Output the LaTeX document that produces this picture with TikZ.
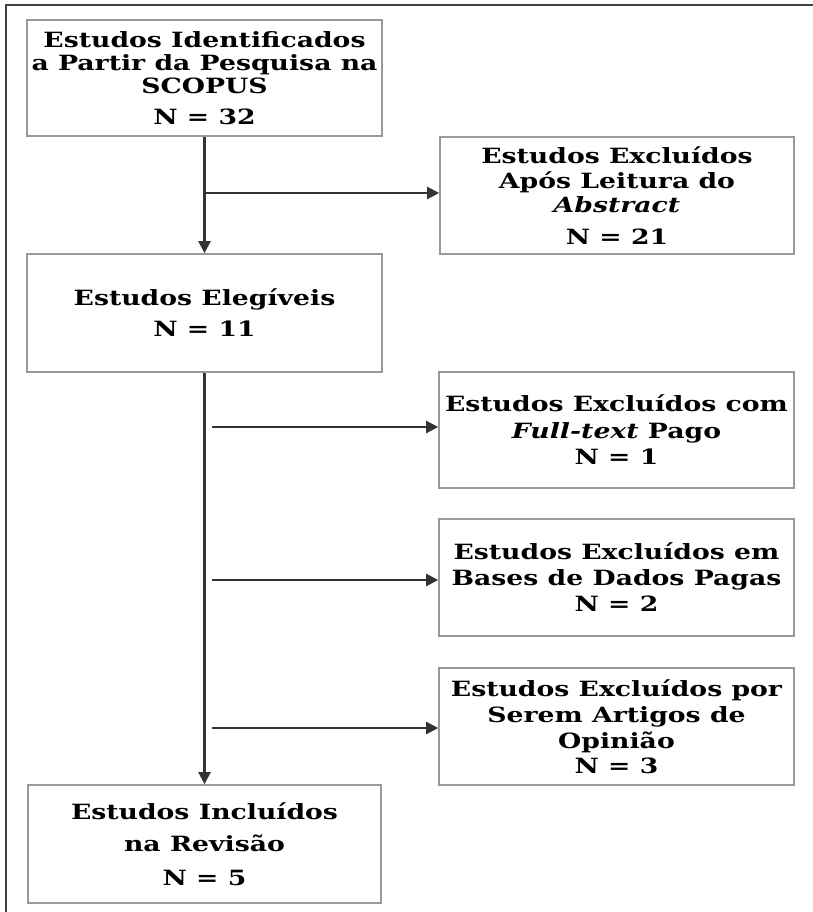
\documentclass[tikz,border=0pt]{standalone}
\usepackage{fontspec}
\setmainfont{DejaVu Serif}[FakeStretch=1.27]
\usetikzlibrary{arrows.meta}
\begin{document}
\begin{tikzpicture}[x=1pt,y=-1pt,
  box/.style={draw=black!40,line width=1.6pt,rectangle,inner sep=0pt,align=center,
    font=\fontsize{21}{26}\selectfont\bfseries},
  arr/.style={draw=black!80,line width=2.2pt,-{Triangle[length=12pt,width=12pt]}},
  frame/.style={draw=black!75,line width=2.8pt}]
\useasboundingbox (0,0) rectangle (813,912);
\fill[white] (0,0) rectangle (813,912);
\draw[frame] (6,913) -- (6,5) -- (814,5);
\node[box,minimum width=355pt,minimum height=116pt] (b1) at (204.5,78)
  {Estudos Identificados\\[-3pt]a Partir da Pesquisa na\\[-3pt]SCOPUS\\[5pt]N = 32};
\node[box,minimum width=354pt,minimum height=117pt] (b2) at (617,195.5)
  {Estudos Excluídos\\[-1pt]Após Leitura do\\[-2pt]\textit{Abstract}\\[6pt]N = 21};
\node[box,minimum width=355pt,minimum height=118pt] (b3) at (204.5,313)
  {Estudos Elegíveis\\[5pt]N = 11};
\node[box,minimum width=355pt,minimum height=116pt] (b4) at (616.5,430)
  {Estudos Excluídos com\\[1pt]\textit{Full-text} Pago\\N = 1};
\node[box,minimum width=355pt,minimum height=117pt] (b5) at (616.5,577.5)
  {Estudos Excluídos em\\Bases de Dados Pagas\\N = 2};
\node[box,minimum width=355pt,minimum height=117pt] (b6) at (616.5,726.5)
  {Estudos Excluídos por\\Serem Artigos de\\Opinião\\[-1pt]N = 3};
\node[box,minimum width=353pt,minimum height=118pt] (b7) at (204.5,844)
  {Estudos Incluídos\\[6pt]na Revisão\\[8pt]N = 5};
\draw[arr] (b1.south) -- (b3.north);
\draw[arr] (b3.south) -- (b7.north);
\coordinate (j1) at (206,193);
\coordinate (j2) at (212,427);
\coordinate (j3) at (212,580);
\coordinate (j4) at (212,728);
\draw[arr] (j1) -- (j1 -| b2.west);
\draw[arr] (j2) -- (j2 -| b4.west);
\draw[arr] (j3) -- (j3 -| b5.west);
\draw[arr] (j4) -- (j4 -| b6.west);
\end{tikzpicture}
\end{document}
